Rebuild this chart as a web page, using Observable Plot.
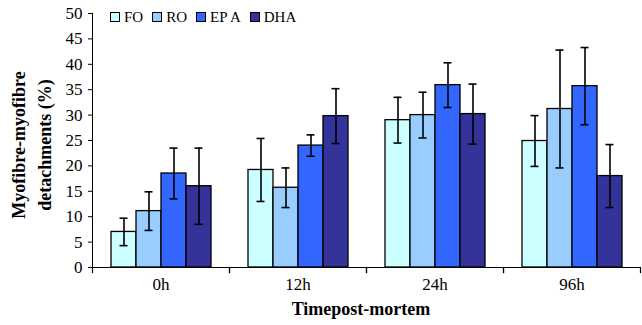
<!DOCTYPE html>
<html><head><meta charset="utf-8">
<script src="https://cdn.jsdelivr.net/npm/d3@7"></script>
<script src="https://cdn.jsdelivr.net/npm/@observablehq/plot@0.6"></script>
<style>
body{margin:0;background:#fff;}
#wrap{position:relative;width:642px;height:325px;font-family:"Liberation Serif","Times New Roman",serif;color:#000;}
#wrap svg{position:absolute;left:0;top:0;}
#legend{position:absolute;left:110px;top:9px;display:flex;align-items:center;font-size:15px;line-height:16px;}
#legend .item{display:flex;align-items:center;margin-right:9px;}
#legend .sw{width:8px;height:8px;border:1px solid #000;margin-right:4px;}
#ytitle{position:absolute;left:32px;top:145px;transform:translate(-50%,-50%) rotate(-90deg);font-weight:bold;font-size:18px;line-height:26px;text-align:center;white-space:nowrap;}
#xtitle{position:absolute;left:361px;top:299px;transform:translateX(-50%);font-weight:bold;font-size:18px;white-space:nowrap;}
</style></head><body><div id="wrap"></div>
<script>
const times = ["0h", "12h", "24h", "96h"];
const series = ["FO", "RO", "EPA", "DHA"];
const seriesLabels = ["FO", "RO", "EP A", "DHA"];
const colors = ["#CCFFFF", "#99CCFF", "#3366FF", "#333399"];
const yTicks = [0, 5, 10, 15, 20, 25, 30, 35, 40, 45, 50];

const FO = [7.0, 19.2, 29.0, 24.9];
const FO_err = [2.7, 6.2, 4.5, 5.0];
const RO = [11.1, 15.7, 30.0, 31.2];
const RO_err = [3.8, 3.9, 4.5, 11.6];
const EPA = [18.5, 24.0, 35.9, 35.7];
const EPA_err = [5.0, 2.1, 4.4, 7.6];
const DHA = [16.0, 29.8, 30.2, 18.0];
const DHA_err = [7.5, 5.4, 5.9, 6.2];

const values = [FO, RO, EPA, DHA];
const errs = [FO_err, RO_err, EPA_err, DHA_err];
const data = [];
times.forEach((t, i) => series.forEach((s, j) => {
  data.push({time: t, series: s, value: values[j][i], err: errs[j][i]});
}));

const H = 325, MT = 13, MB = 58;
const innerH = H - MT - MB;

const plot = Plot.plot({
  width: 642, height: H,
  marginTop: MT, marginBottom: MB, marginLeft: 91, marginRight: 2,
  style: {fontFamily: "'Liberation Serif','Times New Roman',serif", fontSize: "17px", background: "transparent", color: "#000", overflow: "visible"},
  fx: {domain: times, padding: 0, label: null, tickSize: 0, tickPadding: 10, axis: "bottom"},
  x: {domain: series, paddingInner: 0, paddingOuter: 0.73, axis: null},
  y: {domain: [0, 50], ticks: yTicks, tickSize: 4, tickPadding: 6, label: null, line: true},
  color: {domain: series, range: colors},
  marks: [
    Plot.barY(data, {fx: "time", x: "series", y: "value", fill: "series", stroke: "#000", strokeWidth: 1.3}),
    Plot.ruleX(data, {fx: "time", x: "series", y1: d => d.value - d.err, y2: d => d.value + d.err, stroke: "#000", strokeWidth: 1.6}),
    Plot.tickY(data, {fx: "time", x: "series", y: d => d.value + d.err, stroke: "#000", strokeWidth: 1.6, inset: 8.5}),
    Plot.tickY(data, {fx: "time", x: "series", y: d => d.value - d.err, stroke: "#000", strokeWidth: 1.6, inset: 8.5}),
    Plot.ruleY([0], {stroke: "#000", strokeWidth: 1.2}),
    Plot.frame({anchor: "left", insetTop: innerH, insetBottom: -5, stroke: "#000", strokeWidth: 1.2}),
    Plot.frame({anchor: "right", insetTop: innerH, insetBottom: -5, stroke: "#000", strokeWidth: 1.2})
  ]
});

const wrap = document.getElementById("wrap");
wrap.appendChild(plot);

const legend = document.createElement("div");
legend.id = "legend";
series.forEach((s, j) => {
  const item = document.createElement("div");
  item.className = "item";
  const sw = document.createElement("div");
  sw.className = "sw";
  sw.style.background = colors[j];
  const lab = document.createElement("span");
  lab.textContent = seriesLabels[j];
  item.appendChild(sw); item.appendChild(lab);
  legend.appendChild(item);
});
wrap.appendChild(legend);

const yt = document.createElement("div");
yt.id = "ytitle";
yt.innerHTML = "Myofibre-myofibre<br>detachments (%)";
wrap.appendChild(yt);

const xt = document.createElement("div");
xt.id = "xtitle";
xt.textContent = "Timepost-mortem";
wrap.appendChild(xt);
</script>
</body></html>
